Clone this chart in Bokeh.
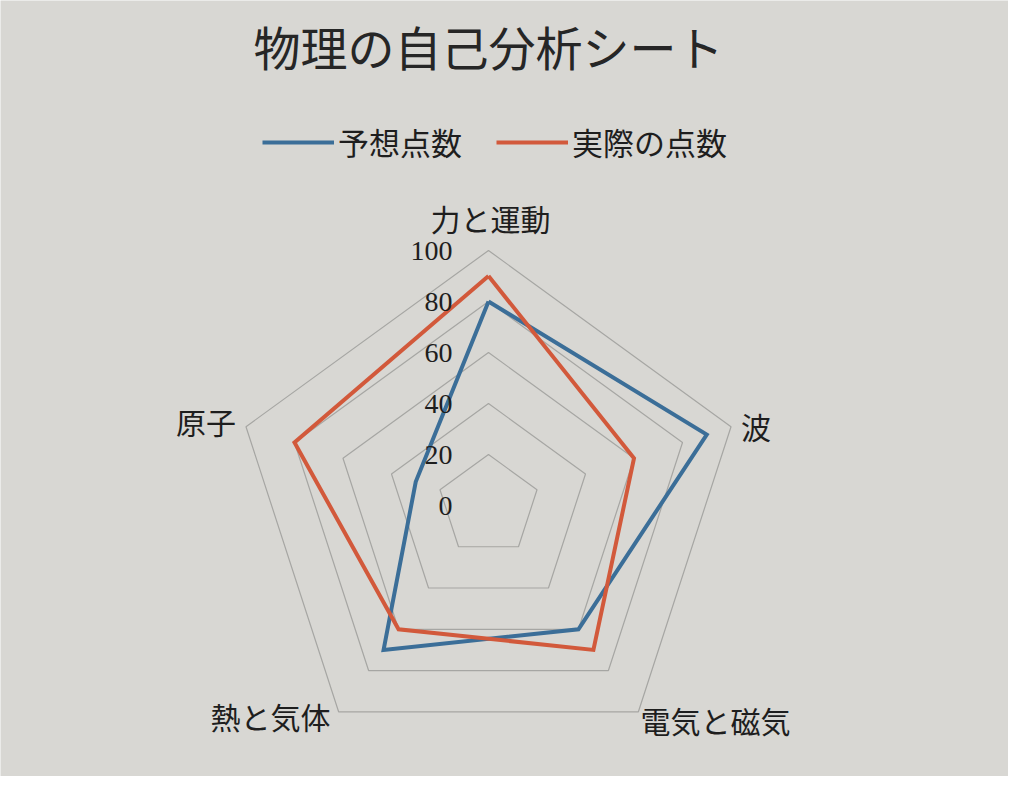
import numpy as np
from bokeh.plotting import figure
from bokeh.models import Range1d, Legend, LegendItem, ColumnDataSource
from bokeh.core.properties import value
from bokeh.embed import file_html
from bokeh.resources import INLINE

# ---- data ----
title_text = "物理の自己分析シート"
categories = ["力と運動", "波", "電気と磁気", "熱と気体", "原子"]
series_names = ["予想点数", "実際の点数"]
expected = [80, 90, 60, 70, 30]
actual = [90, 60, 70, 60, 80]
ring_values = [20, 40, 60, 80, 100]
tick_values = [0, 20, 40, 60, 80, 100]
tick_labels = ["0", "20", "40", "60", "80", "100"]

# ---- layout ----
W, H = 1008, 776
PX = 2.55          # pixels per value unit
CX, CY = 488, 505  # chart centre inside the figure (pixels from top-left)

p = figure(width=W, height=H,
           x_range=Range1d(-CX / PX, (W - CX) / PX),
           y_range=Range1d(-(H - CY) / PX, CY / PX),
           output_backend="svg", toolbar_location=None, min_border=0)
p.axis.visible = False
p.grid.visible = False
p.outline_line_color = None
bg = "#d8d7d3"
p.background_fill_color = bg
p.border_fill_color = bg

n = len(categories)
ang = np.pi / 2 - 2 * np.pi * np.arange(n) / n
vmax = max(ring_values)


def poly(vals):
    v = np.asarray(vals, float)
    xs = v * np.cos(ang)
    ys = v * np.sin(ang)
    return list(xs) + [xs[0]], list(ys) + [ys[0]]


for r in ring_values:
    xs, ys = poly([r] * n)
    p.line(xs, ys, line_color="#a6a6a3", line_width=1.2)

blue = "#3b6e98"
orange = "#d2593b"
xs, ys = poly(expected)
rb = p.line(xs, ys, line_color=blue, line_width=4, line_join="miter")
xs, ys = poly(actual)
ro = p.line(xs, ys, line_color=orange, line_width=4, line_join="miter")

# tick labels
p.text(x=[0] * len(tick_values), y=tick_values, text=tick_labels,
       x_offset=-36, text_align="right", text_baseline="middle",
       text_font=value("Liberation Serif"), text_font_size="28px",
       text_color="#1e1e1e")

# category labels
aligns = ["center", "left", "left", "right", "right"]
xoffs = [2, 10, 2, -8, -10]
yoffs = [-33, -1, 8, 4, -6]
cat_src = ColumnDataSource(dict(
    x=list(vmax * np.cos(ang)), y=list(vmax * np.sin(ang)), text=categories,
    align=aligns, xo=xoffs, yo=yoffs))
p.text(x="x", y="y", text="text", source=cat_src, text_align="align",
       x_offset="xo", y_offset="yo", text_baseline="middle",
       text_font=value("Noto Sans CJK JP"), text_font_size="30px",
       text_color="#1e1e1e")

# title
p.text(x=[0], y=[(CY - 45) / PX], text=[title_text], text_align="center",
       text_baseline="middle", text_font=value("Noto Sans CJK JP"),
       text_font_size="47px", text_color="#262626")

legend = Legend(items=[LegendItem(label=series_names[0], renderers=[rb]),
                       LegendItem(label=series_names[1], renderers=[ro])],
                orientation="horizontal", location=(262, 612),
                glyph_width=72, glyph_height=36, label_height=36,
                label_standoff=4, spacing=34, padding=0, margin=0,
                border_line_color=None, background_fill_alpha=0,
                label_text_font="Noto Sans CJK JP",
                label_text_font_size="31px", label_text_color="#1e1e1e")
p.add_layout(legend)

open("out.html", "w").write(file_html(p, INLINE))
